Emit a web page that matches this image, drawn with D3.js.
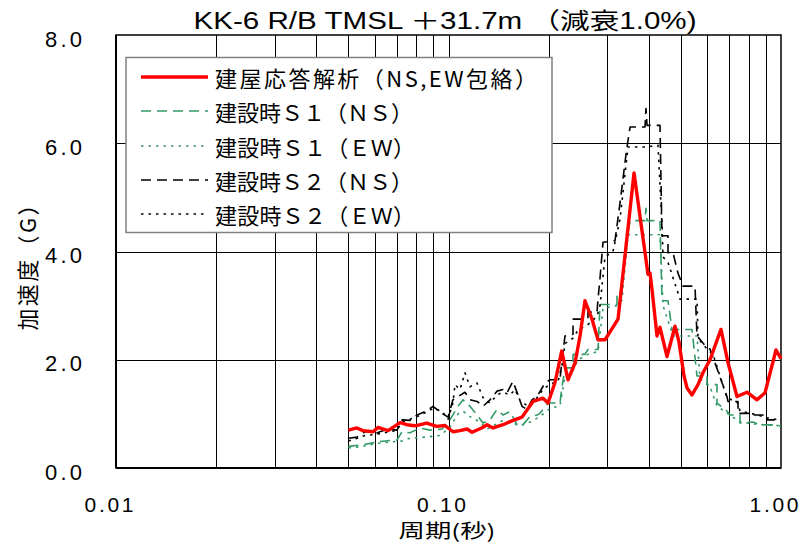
<!DOCTYPE html>
<html><head><meta charset="utf-8">
<script src="https://cdn.jsdelivr.net/npm/d3@7/dist/d3.min.js"></script>
<style>body{margin:0;background:#fff}svg{display:block}</style>
</head><body>
<svg id="c" width="801" height="544"></svg>
<script>
// ---- data ----
const titleText = "KK-6 R/B TMSL ＋31.7m （減衰1.0%)";
const yLabelText = "加速度（G）";
const xLabelText = "周期(秒)";
const yTickValues = [0, 2, 4, 6, 8];
const yTickLabels = ["0.0", "2.0", "4.0", "6.0", "8.0"];
const xTickValues = [0.01, 0.1, 1];
const xTickLabels = ["0.01", "0.10", "1.00"];
const xGridValues = [0.02,0.03,0.04,0.05,0.06,0.07,0.08,0.09,0.1,0.2,0.3,0.4,0.5,0.6,0.7,0.8,0.9];
const yGridValues = [2, 4, 6];
const seriesNames = ["建屋応答解析（NS,EW包絡）","建設時Ｓ１（ＮＳ）","建設時Ｓ１（ＥＷ）","建設時Ｓ２（ＮＳ）","建設時Ｓ２（ＥＷ）"];

const redT = [0.050,0.053,0.0553,0.0593,0.0614,0.0658,0.0715,0.0750,0.0793,0.0860,0.0921,0.0976,0.1031,0.1083,0.1137,0.1177,0.1258,0.1306,0.1361,0.1459,0.1563,0.1664,0.1796,0.1924,0.1992,0.2091,0.2190,0.2288,0.2402,0.2486,0.2573,0.2702,0.2816,0.2956,0.3235,0.3614,0.3981,0.4037,0.4093,0.4237,0.4326,0.4541,0.4800,0.4934,0.5109,0.5216,0.5399,0.5628,0.5826,0.6116,0.6599,0.6927,0.7373,0.7901,0.8469,0.8952,0.966,1.0];
const redV = [0.70,0.74,0.69,0.67,0.75,0.69,0.84,0.80,0.78,0.83,0.77,0.785,0.67,0.69,0.72,0.66,0.74,0.80,0.74,0.80,0.88,0.94,1.23,1.29,1.20,1.58,2.16,1.63,1.94,2.44,3.09,2.75,2.37,2.37,2.75,5.45,3.58,3.60,3.30,2.44,2.60,2.06,2.62,2.33,1.70,1.48,1.35,1.54,1.76,2.00,2.56,1.95,1.32,1.40,1.26,1.39,2.18,2.02];

const s1nsT = [0.050,0.0553,0.0622,0.0700,0.0725,0.0766,0.0821,0.0880,0.0956,0.1010,0.1068,0.1106,0.1160,0.1218,0.1270,0.1333,0.1399,0.1459,0.1531,0.1607,0.1664,0.1759,0.1846,0.1885,0.1992,0.2164,0.2195,0.2241,0.2369,0.2369,0.2573,0.2627,0.2816,0.2855,0.3212,0.3212,0.3325,0.3395,0.3515,0.3899,0.3926,0.3954,0.4326,0.4386,0.4572,0.4701,0.5399,0.5589,0.5990,0.5990,0.6419,0.6419,0.6879,0.7024,0.7528,0.7528,0.8237,0.8647,0.9268,1.0];
const s1nsV = [0.40,0.43,0.49,0.52,0.67,0.65,0.74,0.70,0.72,0.89,1.14,1.26,1.14,0.98,0.83,0.89,1.08,0.98,1.04,0.80,0.78,0.95,0.98,1.01,1.20,1.20,1.50,1.85,1.85,2.10,2.10,2.19,2.19,3.02,3.02,3.25,3.25,4.00,4.57,4.57,4.80,4.57,4.57,3.09,3.09,2.56,2.56,1.70,1.70,1.54,1.54,1.20,1.05,0.98,0.98,0.83,0.85,0.80,0.80,0.77];

const s1ewT = [0.050,0.0553,0.0601,0.0667,0.0725,0.0766,0.0850,0.0943,0.1010,0.1068,0.1106,0.1160,0.1244,0.1306,0.1380,0.1459,0.1531,0.1641,0.1759,0.1885,0.2020,0.2164,0.2241,0.2369,0.2452,0.2627,0.2816,0.2915,0.3212,0.3325,0.3466,0.4326,0.4417,0.4733,0.5589,0.5707,0.6116,0.6419,0.6927,0.7528,0.8647,1.0];
const s1ewV = [0.37,0.40,0.45,0.48,0.50,0.55,0.57,0.60,0.75,1.00,1.05,0.95,0.85,0.72,0.80,0.88,0.85,0.78,0.85,0.95,1.10,1.15,1.70,1.80,2.00,2.10,2.15,2.95,3.00,3.10,4.31,4.31,3.00,2.44,2.44,1.65,1.50,1.15,1.00,0.85,0.80,0.78];

const s2nsT = [0.050,0.0531,0.0561,0.0601,0.0601,0.0622,0.0658,0.0700,0.0725,0.0766,0.0804,0.0850,0.0898,0.0956,0.0997,0.1031,0.1068,0.1121,0.1160,0.1218,0.1270,0.1333,0.1399,0.1459,0.1499,0.1563,0.1607,0.1664,0.1723,0.1783,0.1846,0.1951,0.2020,0.2164,0.2195,0.2241,0.2369,0.2369,0.2627,0.2627,0.2797,0.2816,0.2855,0.2915,0.3168,0.3280,0.3419,0.3515,0.3899,0.3926,0.3954,0.4326,0.4386,0.4572,0.4572,0.4733,0.4900,0.5073,0.5513,0.5589,0.5990,0.6116,0.6879,0.6927,0.7425,0.7425,0.8237,0.8237,0.9077,0.9077,1.0];
const s2nsV = [0.55,0.57,0.67,0.67,0.63,0.67,0.72,0.70,0.89,0.88,0.98,1.04,1.14,1.01,0.94,1.26,1.32,1.40,1.26,1.23,1.14,1.26,1.42,1.45,1.39,1.60,1.40,1.14,1.08,1.26,1.32,1.57,1.63,1.63,2.00,2.44,2.47,2.75,2.75,2.88,2.88,3.12,3.50,4.17,4.20,4.90,5.80,6.30,6.30,6.64,6.33,6.33,4.29,4.29,3.98,3.98,3.60,3.36,3.36,2.44,2.22,2.20,1.32,1.23,1.23,1.01,1.01,0.98,0.98,0.89,0.89];

const s2ewT = [0.050,0.0531,0.0561,0.0601,0.0644,0.0700,0.0725,0.0766,0.0804,0.0850,0.0898,0.0956,0.0997,0.1031,0.1046,0.1083,0.1121,0.1160,0.1218,0.1270,0.1333,0.1399,0.1459,0.1531,0.1585,0.1641,0.1723,0.1783,0.1846,0.1924,0.2020,0.2135,0.2195,0.2241,0.2369,0.2452,0.2627,0.2797,0.2855,0.2956,0.3124,0.3280,0.3466,0.3767,0.3954,0.4179,0.4267,0.4386,0.4417,0.4572,0.4969,0.5589,0.5628,0.5990,0.6244,0.6879,0.7425,0.7528,0.8237,0.9077,1.0];
const s2ewV = [0.50,0.55,0.60,0.62,0.65,0.70,0.85,0.90,0.95,1.02,1.10,1.05,0.90,1.20,1.54,1.45,1.76,1.50,1.57,1.30,1.20,1.35,1.40,1.35,1.45,1.25,1.15,1.20,1.30,1.45,1.55,1.60,1.90,2.30,2.40,2.55,2.65,2.80,3.00,3.90,4.00,4.60,5.93,5.93,5.93,5.96,5.96,4.50,3.90,3.80,3.12,3.12,2.40,2.20,2.10,1.30,1.20,1.05,1.00,0.93,0.88];

// ---- drawing ----
const svg = d3.select("#c");
const L = 116, R = 781, T = 35, B = 468;
const x = d3.scaleLog().domain([0.01, 1]).range([L, R]);
const y = d3.scaleLinear().domain([0, 8]).range([B, T]);
const latin = "'Liberation Sans Narrow','Liberation Sans',Arial,'Noto Sans CJK JP',sans-serif";
const cjk = "'Noto Sans CJK JP','Noto Sans CJK SC',sans-serif";

// grid
svg.append("g").selectAll("line").data(xGridValues).join("line")
  .attr("x1", d => Math.round(x(d)) + 0.5).attr("x2", d => Math.round(x(d)) + 0.5)
  .attr("y1", T).attr("y2", B).attr("stroke", "#000").attr("stroke-width", 1);
svg.append("g").selectAll("line").data(yGridValues).join("line")
  .attr("y1", d => Math.round(y(d)) + 0.5).attr("y2", d => Math.round(y(d)) + 0.5)
  .attr("x1", L).attr("x2", R).attr("stroke", "#000").attr("stroke-width", 1);

// frame
svg.append("rect").attr("x", L).attr("y", T).attr("width", R - L).attr("height", B - T)
  .attr("fill", "none").attr("stroke", "#000").attr("stroke-width", 1.5);
svg.append("line").attr("x1", L).attr("x2", L).attr("y1", T).attr("y2", B).attr("stroke", "#000").attr("stroke-width", 2);
svg.append("line").attr("x1", L).attr("x2", R).attr("y1", B).attr("y2", B).attr("stroke", "#000").attr("stroke-width", 2);

// y tick labels
svg.append("g").selectAll("text").data(yTickValues).join("text")
  .attr("x", 82).attr("y", d => y(d) + 4).attr("text-anchor", "end")
  .attr("dominant-baseline", "central")
  .attr("font-family", latin).attr("font-size", 22)
  .attr("textLength", 37).attr("lengthAdjust", "spacing")
  .text((d, i) => yTickLabels[i]);

// x tick labels
svg.append("g").selectAll("text").data(xTickValues).join("text")
  .attr("x", d => x(d) - 7).attr("y", 504).attr("text-anchor", "middle")
  .attr("dominant-baseline", "central")
  .attr("font-family", latin).attr("font-size", 21)
  .attr("textLength", 49).attr("lengthAdjust", "spacing")
  .text((d, i) => xTickLabels[i]);

// title
svg.append("text").attr("x", 445).attr("y", 21).attr("text-anchor", "middle")
  .attr("dominant-baseline", "central").attr("font-family", latin).attr("font-size", 23)
  .attr("textLength", 503).attr("lengthAdjust", "spacingAndGlyphs").text(titleText);

// axis titles
svg.append("text").attr("x", 447).attr("y", 529).attr("text-anchor", "middle")
  .attr("dominant-baseline", "central").attr("font-family", cjk).attr("font-size", 19)
  .attr("textLength", 97).attr("lengthAdjust", "spacingAndGlyphs").text(xLabelText);
svg.append("text").attr("transform", "translate(26,262) rotate(-90)").attr("text-anchor", "middle")
  .attr("dominant-baseline", "central").attr("font-family", cjk).attr("font-size", 22)
  .attr("textLength", 137).attr("lengthAdjust", "spacing").text(yLabelText);

// series
const styles = [
  {t: redT, v: redV, c: "#ff0000", w: 3.4, dash: null},
  {t: s1nsT, v: s1nsV, c: "#339966", w: 1.6, dash: "10,6"},
  {t: s1ewT, v: s1ewV, c: "#339966", w: 1.6, dash: "2.5,5"},
  {t: s2nsT, v: s2nsV, c: "#000000", w: 1.6, dash: "10,6"},
  {t: s2ewT, v: s2ewV, c: "#000000", w: 1.6, dash: "2.5,5"}
];
const line = d3.line().x(d => x(d[0])).y(d => y(d[1]));
const drawOrder = [1, 2, 3, 4, 0];
const gData = svg.append("g");
drawOrder.forEach(i => {
  const s = styles[i];
  gData.append("path").datum(s.t.map((t, k) => [t, s.v[k]]))
    .attr("d", line).attr("fill", "none").attr("stroke", s.c).attr("stroke-width", s.w)
    .attr("stroke-dasharray", s.dash).attr("stroke-linejoin", "round");
});

// legend
const lg = svg.append("g");
lg.append("rect").attr("x", 126).attr("y", 57.5).attr("width", 426).attr("height", 175)
  .attr("fill", "#fff").attr("stroke", "#808080").attr("stroke-width", 1.5);
const rowY = [77, 111, 146, 180, 214];
const textW = [322, 198, 200, 198, 200];
seriesNames.forEach((n, i) => {
  const s = styles[i];
  lg.append("line").attr("x1", 141).attr("x2", 208).attr("y1", rowY[i]).attr("y2", rowY[i])
    .attr("stroke", s.c).attr("stroke-width", s.w).attr("stroke-dasharray", s.dash);
  lg.append("text").attr("x", 215).attr("y", rowY[i]).attr("dominant-baseline", "central")
    .attr("font-family", cjk).attr("font-size", 22)
    .attr("textLength", textW[i]).attr("lengthAdjust", "spacing").text(n);
});
</script>
</body></html>
